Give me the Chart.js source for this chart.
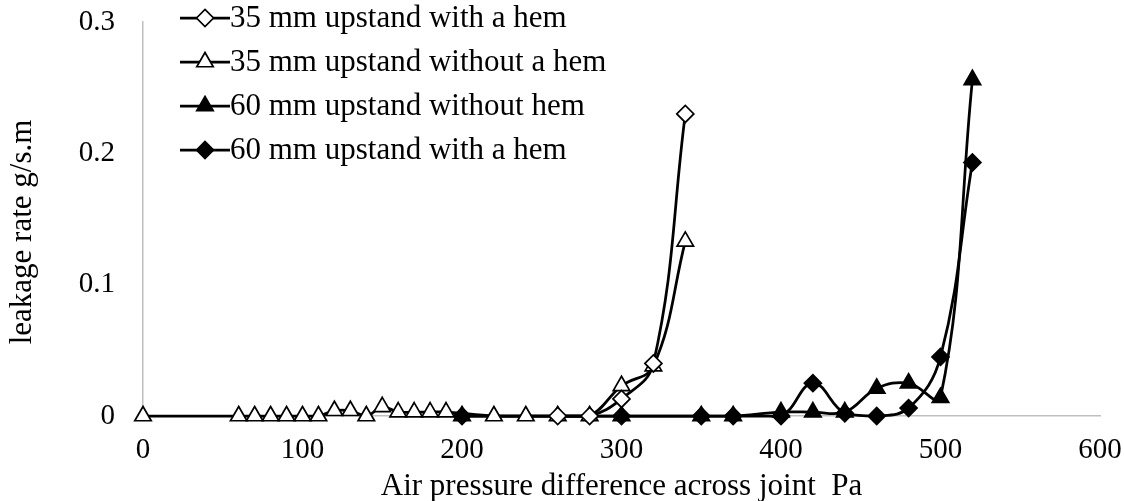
<!DOCTYPE html>
<html>
<head>
<meta charset="utf-8">
<title>Leakage rate vs air pressure difference</title>
<script src="https://cdn.jsdelivr.net/npm/chart.js@4.4.1/dist/chart.umd.min.js"></script>
<style>
	html, body { margin: 0; padding: 0; background: #fff; }
	#leakChart { display: block; }
</style>
</head>
<body>
<canvas id="leakChart" width="1124" height="501"></canvas>
<script>
// series names, in legend order
var seriesNames = [
	'35 mm upstand with a hem',
	'35 mm upstand without a hem',
	'60 mm upstand without hem',
	'60 mm upstand with a hem'
];

// 35 mm, with hem (open diamond)
var hem35X = [260, 280, 300, 320, 340];
var hem35Y = [0, 0, 0.013, 0.04, 0.23];

// 35 mm, no hem (open triangle)
var noHem35X = [0, 60, 70, 80, 90, 100, 110, 120, 130, 140, 150, 160, 170, 180, 190, 220, 240, 260, 280, 300, 320, 340];
var noHem35Y = [0, 0, 0, 0, 0, 0, 0, 0.004, 0.004, 0, 0.007, 0.003, 0.003, 0.003, 0.003, 0, 0, 0, 0, 0.023, 0.038, 0.133];

// 60 mm, no hem (filled triangle)
var noHem60X = [200, 300, 350, 370, 400, 420, 440, 460, 480, 500, 520];
var noHem60Y = [0, 0, 0, 0, 0.003, 0.003, 0.003, 0.021, 0.025, 0.014, 0.256];

// 60 mm, with hem (filled diamond)
var hem60X = [200, 300, 350, 370, 400, 420, 440, 460, 480, 500, 520];
var hem60Y = [0, 0, 0, 0, 0, 0.025, 0.002, 0, 0.006, 0.045, 0.193];

var yTickLabels = ['0', '0.1', '0.2', '0.3'];
var xTitle = 'Air pressure difference across joint  Pa';
var yTitle = 'leakage rate g/s.m';

(function () {
	'use strict';

	var FONT = '"Liberation Serif", "Times New Roman", serif';

	function toPoints(xs, ys) {
		return xs.map(function (x, i) {
			return { x: x, y: ys[i] };
		});
	}

	function series(label, xs, ys, style, filled, radius) {
		return {
			label: label,
			data: toPoints(xs, ys),
			clip: false,
			borderColor: '#000',
			borderWidth: 2.75,
			tension: 0.4,
			pointStyle: style,
			pointRadius: radius,
			pointHoverRadius: radius,
			pointBackgroundColor: filled ? '#000' : '#fff',
			pointBorderColor: '#000',
			pointBorderWidth: 1.7
		};
	}

	// legend drawn inside the plot, line + marker + text like the original
	var insideLegend = {
		id: 'insideLegend',
		afterDraw: function (chart) {
			var ctx = chart.ctx;
			var area = chart.chartArea;
			var x0 = area.left + 37, x1 = area.left + 87;
			var rows = [18, 62, 106, 150];
			ctx.save();
			ctx.font = '31px ' + FONT;
			ctx.textBaseline = 'middle';
			chart.data.datasets.forEach(function (ds, i) {
				var y = rows[i];
				ctx.strokeStyle = '#000';
				ctx.lineWidth = 2.75;
				ctx.beginPath();
				ctx.moveTo(x0, y);
				ctx.lineTo(x1, y);
				ctx.stroke();
				ctx.fillStyle = ds.pointBackgroundColor;
				ctx.lineWidth = ds.pointBorderWidth;
				Chart.helpers.drawPoint(ctx, {
					pointStyle: ds.pointStyle,
					radius: ds.pointRadius,
					borderWidth: ds.pointBorderWidth,
					rotation: 0
				}, (x0 + x1) / 2, y);
				ctx.fillStyle = '#000';
				ctx.fillText(ds.label, x1, y + 1);
			});
			ctx.restore();
		}
	};

	// y title sits a bit lower than the plot centre in the original
	var yAxisTitle = {
		id: 'yAxisTitle',
		afterDraw: function (chart) {
			var ctx = chart.ctx;
			var area = chart.chartArea;
			ctx.save();
			ctx.translate(23, (area.top + area.bottom) / 2 + 13);
			ctx.rotate(-Math.PI / 2);
			ctx.font = '31px ' + FONT;
			ctx.fillStyle = '#000';
			ctx.textAlign = 'center';
			ctx.textBaseline = 'middle';
			ctx.fillText(yTitle, 0, 0);
			ctx.restore();
		}
	};

	var ctx = document.getElementById('leakChart');
	new Chart(ctx, {
		type: 'line',
		data: {
			datasets: [
				series(seriesNames[0], hem35X, hem35Y, 'rectRot', false, 8.5),
				series(seriesNames[1], noHem35X, noHem35Y, 'triangle', false, 9.5),
				series(seriesNames[2], noHem60X, noHem60Y, 'triangle', true, 9.5),
				series(seriesNames[3], hem60X, hem60Y, 'rectRot', true, 8.5)
			]
		},
		options: {
			responsive: false,
			devicePixelRatio: 1,
			animation: false,
			layout: { padding: { top: 22, right: 24, left: 0, bottom: 0 } },
			plugins: {
				legend: { display: false },
				tooltip: { enabled: false }
			},
			scales: {
				x: {
					type: 'linear',
					min: 0,
					max: 600,
					grid: { display: false },
					border: { color: '#bfbfbf', width: 1.5 },
					ticks: {
						stepSize: 100,
						padding: 9,
						color: '#000',
						font: { family: FONT, size: 29 }
					},
					title: {
						display: true,
						text: xTitle,
						color: '#000',
						font: { family: FONT, size: 31, lineHeight: 0.9 },
						padding: { top: 0, bottom: 0 }
					},
					afterFit: function (scale) {
						scale.height = 85;
						scale.paddingLeft = 0;
						scale.paddingRight = 0;
					}
				},
				y: {
					min: 0,
					max: 0.3,
					grid: { display: false },
					border: { color: '#bfbfbf', width: 1.5 },
					ticks: {
						stepSize: 0.1,
						padding: 20,
						color: '#000',
						font: { family: FONT, size: 29 },
						callback: function (value, index) {
							return yTickLabels[index];
						}
					},
					afterFit: function (scale) {
						scale.width = 143;
						scale.paddingTop = 0;
						scale.paddingBottom = 0;
					}
				}
			}
		},
		plugins: [insideLegend, yAxisTitle]
	});
})();
</script>
</body>
</html>
